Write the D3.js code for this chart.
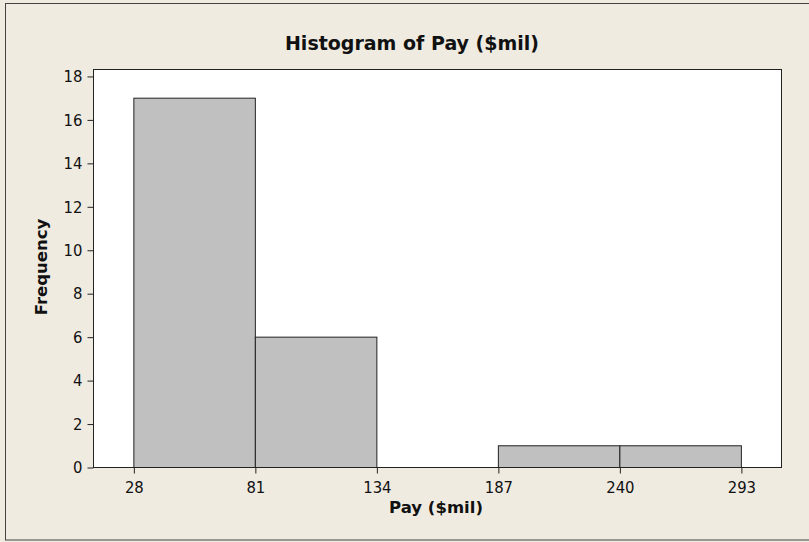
<!DOCTYPE html>
<html><head><meta charset="utf-8">
<script src="https://cdn.jsdelivr.net/npm/d3@7"></script>
<style>body{margin:0;background:#efebe1;}svg{display:block;}
.tk{font-family:'DejaVu Sans Condensed','DejaVu Sans',sans-serif;font-stretch:condensed;}</style>
</head><body>
<svg id="c" width="809" height="542"></svg>
<script>
const binEdges = [28, 81, 134, 187, 240, 293];
const frequencies = [17, 6, 0, 1, 1];
const xTicks = [28, 81, 134, 187, 240, 293];
const yTicks = [0, 2, 4, 6, 8, 10, 12, 14, 16, 18];
const title = "Histogram of Pay ($mil)";
const xLabel = "Pay ($mil)";
const yLabel = "Frequency";

const svg = d3.select("#c");
const font = "Tahoma, 'DejaVu Sans', Verdana, sans-serif";
svg.append("rect").attr("x",5.5).attr("y",3.5).attr("width",810).attr("height",536.5)
  .attr("fill","#efebe1").attr("stroke","#444").attr("stroke-width",1);

const L=93, R=781, T=69, B=467;
const x = d3.scaleLinear().domain([10.4, 310.5]).range([L, R]);
const y = d3.scaleLinear().domain([0, 18.32]).range([B, T]);

svg.append("rect").attr("x",L).attr("y",T).attr("width",R-L).attr("height",B-T).attr("fill","#fff");

const bins = frequencies.map((f,i)=>({x0:binEdges[i], x1:binEdges[i+1], f}));
svg.append("g").selectAll("rect").data(bins.filter(d=>d.f>0)).join("rect")
  .attr("x",d=>x(d.x0)+0.5).attr("y",d=>y(d.f)+0.5)
  .attr("width",d=>x(d.x1)-x(d.x0)).attr("height",d=>y(0)-y(d.f))
  .attr("fill","#c0c0c0").attr("stroke","#222").attr("stroke-width",1);

svg.append("rect").attr("x",L+0.5).attr("y",T+0.5).attr("width",R-L).attr("height",B-T)
  .attr("fill","none").attr("stroke","#222").attr("stroke-width",1);

const yAxis = svg.append("g").attr("transform",`translate(${L+0.5},0.5)`)
  .call(d3.axisLeft(y).tickValues(yTicks).tickSize(6).tickPadding(5).tickFormat(d3.format("d")));
yAxis.select(".domain").remove();
const xAxis = svg.append("g").attr("transform",`translate(0.5,${B+0.5})`)
  .call(d3.axisBottom(x).tickValues(xTicks).tickSize(6).tickPadding(8).tickFormat(d3.format("d")));
xAxis.select(".domain").remove();
svg.selectAll(".tick text").attr("class","tk").attr("font-family",null).attr("font-size",16.5).attr("fill","#111");
yAxis.attr("font-family",null); xAxis.attr("font-family",null);
svg.selectAll(".tick line").attr("stroke","#222");

svg.append("text").attr("x",412).attr("y",50).attr("text-anchor","middle")
  .attr("font-family",font).attr("font-weight","bold").attr("font-size",19).attr("fill","#111").text(title);
svg.append("text").attr("x",436).attr("y",513).attr("text-anchor","middle")
  .attr("font-family",font).attr("font-weight","bold").attr("font-size",16.5).attr("fill","#111").text(xLabel);
svg.append("text").attr("transform","translate(47,267) rotate(-90)").attr("text-anchor","middle")
  .attr("font-family",font).attr("font-weight","bold").attr("font-size",16.5).attr("fill","#111").text(yLabel);
</script>
</body></html>
